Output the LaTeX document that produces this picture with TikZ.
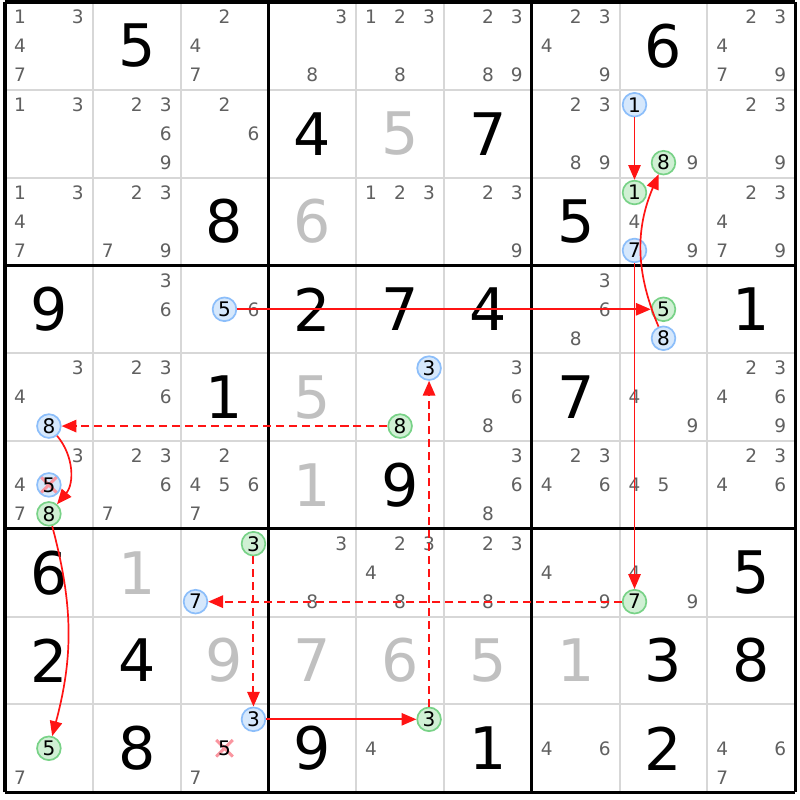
\documentclass[tikz,border=0pt]{standalone}
\usepackage{fontspec}
\setmainfont{DejaVu Sans}
\usetikzlibrary{arrows.meta}
\definecolor{gridgrey}{RGB}{215,215,215}
\definecolor{candgrey}{RGB}{96,96,96}
\definecolor{solvedgrey}{RGB}{192,192,192}
\definecolor{offfill}{RGB}{214,232,252}
\definecolor{offline}{RGB}{140,190,250}
\definecolor{onfill}{RGB}{208,240,212}
\definecolor{online}{RGB}{120,210,135}
\definecolor{elimred}{RGB}{250,150,160}
\definecolor{chainred}{RGB}{255,20,20}

\begin{document}
\begin{tikzpicture}[
  given/.style={font=\fontsize{19}{19}\selectfont, inner sep=0},
  solved/.style={given, text=solvedgrey},
  cand/.style={font=\fontsize{6}{6}\selectfont, text=candgrey, inner sep=0},
  markc/.style={cand, font=\fontsize{6.5}{6.5}\selectfont, circle, minimum size=0.27cm, text=black},
  offc/.style={markc, draw=offline, fill=offfill, line width=0.55pt},
  onc/.style={markc, draw=online, fill=onfill, line width=0.55pt},
  elim/.style={path picture={\draw[elimred, line width=1pt]
      (path picture bounding box.north west) -- (path picture bounding box.south east)
      (path picture bounding box.north east) -- (path picture bounding box.south west);}},
  strong/.style={chainred, line width=0.55pt, -{Triangle[length=4.8pt,width=4pt]}},
  weak/.style={strong, line width=0.65pt, dash pattern=on 2.6pt off 1.6pt}
]
\useasboundingbox (-0.057,-0.089) rectangle (9.055,9.023);
\fill [white] (-0.057,-0.089) rectangle (9.055,9.023);
\draw [gridgrey, line width=0.65pt] (0,0) grid (9,9);
\draw [black, line width=1pt, step=3] (0,0) grid (9,9);

\node[cand] (r1c1d1) at (0.17,8.83) {1};
\node[cand] (r1c1d3) at (0.83,8.83) {3};
\node[cand] (r1c1d4) at (0.17,8.5) {4};
\node[cand] (r1c1d7) at (0.17,8.17) {7};
\node[given] (r1c2) at (1.5,8.5) {5};
\node[cand] (r1c3d2) at (2.5,8.83) {2};
\node[cand] (r1c3d4) at (2.17,8.5) {4};
\node[cand] (r1c3d7) at (2.17,8.17) {7};
\node[cand] (r1c4d3) at (3.83,8.83) {3};
\node[cand] (r1c4d8) at (3.5,8.17) {8};
\node[cand] (r1c5d1) at (4.17,8.83) {1};
\node[cand] (r1c5d2) at (4.5,8.83) {2};
\node[cand] (r1c5d3) at (4.83,8.83) {3};
\node[cand] (r1c5d8) at (4.5,8.17) {8};
\node[cand] (r1c6d2) at (5.5,8.83) {2};
\node[cand] (r1c6d3) at (5.83,8.83) {3};
\node[cand] (r1c6d8) at (5.5,8.17) {8};
\node[cand] (r1c6d9) at (5.83,8.17) {9};
\node[cand] (r1c7d2) at (6.5,8.83) {2};
\node[cand] (r1c7d3) at (6.83,8.83) {3};
\node[cand] (r1c7d4) at (6.17,8.5) {4};
\node[cand] (r1c7d9) at (6.83,8.17) {9};
\node[given] (r1c8) at (7.5,8.5) {6};
\node[cand] (r1c9d2) at (8.5,8.83) {2};
\node[cand] (r1c9d3) at (8.83,8.83) {3};
\node[cand] (r1c9d4) at (8.17,8.5) {4};
\node[cand] (r1c9d7) at (8.17,8.17) {7};
\node[cand] (r1c9d9) at (8.83,8.17) {9};

\node[cand] (r2c1d1) at (0.17,7.83) {1};
\node[cand] (r2c1d3) at (0.83,7.83) {3};
\node[cand] (r2c2d2) at (1.5,7.83) {2};
\node[cand] (r2c2d3) at (1.83,7.83) {3};
\node[cand] (r2c2d6) at (1.83,7.5) {6};
\node[cand] (r2c2d9) at (1.83,7.17) {9};
\node[cand] (r2c3d2) at (2.5,7.83) {2};
\node[cand] (r2c3d6) at (2.83,7.5) {6};
\node[given] (r2c4) at (3.5,7.5) {4};
\node[solved] (r2c5) at (4.5,7.5) {5};
\node[given] (r2c6) at (5.5,7.5) {7};
\node[cand] (r2c7d2) at (6.5,7.83) {2};
\node[cand] (r2c7d3) at (6.83,7.83) {3};
\node[cand] (r2c7d8) at (6.5,7.17) {8};
\node[cand] (r2c7d9) at (6.83,7.17) {9};
\node[offc] (r2c8d1) at (7.17,7.83) {1};
\node[onc] (r2c8d8) at (7.5,7.17) {8};
\node[cand] (r2c8d9) at (7.83,7.17) {9};
\node[cand] (r2c9d2) at (8.5,7.83) {2};
\node[cand] (r2c9d3) at (8.83,7.83) {3};
\node[cand] (r2c9d9) at (8.83,7.17) {9};

\node[cand] (r3c1d1) at (0.17,6.83) {1};
\node[cand] (r3c1d3) at (0.83,6.83) {3};
\node[cand] (r3c1d4) at (0.17,6.5) {4};
\node[cand] (r3c1d7) at (0.17,6.17) {7};
\node[cand] (r3c2d2) at (1.5,6.83) {2};
\node[cand] (r3c2d3) at (1.83,6.83) {3};
\node[cand] (r3c2d7) at (1.17,6.17) {7};
\node[cand] (r3c2d9) at (1.83,6.17) {9};
\node[given] (r3c3) at (2.5,6.5) {8};
\node[solved] (r3c4) at (3.5,6.5) {6};
\node[cand] (r3c5d1) at (4.17,6.83) {1};
\node[cand] (r3c5d2) at (4.5,6.83) {2};
\node[cand] (r3c5d3) at (4.83,6.83) {3};
\node[cand] (r3c6d2) at (5.5,6.83) {2};
\node[cand] (r3c6d3) at (5.83,6.83) {3};
\node[cand] (r3c6d9) at (5.83,6.17) {9};
\node[given] (r3c7) at (6.5,6.5) {5};
\node[onc] (r3c8d1) at (7.17,6.83) {1};
\node[cand] (r3c8d4) at (7.17,6.5) {4};
\node[offc] (r3c8d7) at (7.17,6.17) {7};
\node[cand] (r3c8d9) at (7.83,6.17) {9};
\node[cand] (r3c9d2) at (8.5,6.83) {2};
\node[cand] (r3c9d3) at (8.83,6.83) {3};
\node[cand] (r3c9d4) at (8.17,6.5) {4};
\node[cand] (r3c9d7) at (8.17,6.17) {7};
\node[cand] (r3c9d9) at (8.83,6.17) {9};

\node[given] (r4c1) at (0.5,5.5) {9};
\node[cand] (r4c2d3) at (1.83,5.83) {3};
\node[cand] (r4c2d6) at (1.83,5.5) {6};
\node[offc] (r4c3d5) at (2.5,5.5) {5};
\node[cand] (r4c3d6) at (2.83,5.5) {6};
\node[given] (r4c4) at (3.5,5.5) {2};
\node[given] (r4c5) at (4.5,5.5) {7};
\node[given] (r4c6) at (5.5,5.5) {4};
\node[cand] (r4c7d3) at (6.83,5.83) {3};
\node[cand] (r4c7d6) at (6.83,5.5) {6};
\node[cand] (r4c7d8) at (6.5,5.17) {8};
\node[onc] (r4c8d5) at (7.5,5.5) {5};
\node[offc] (r4c8d8) at (7.5,5.17) {8};
\node[given] (r4c9) at (8.5,5.5) {1};

\node[cand] (r5c1d3) at (0.83,4.83) {3};
\node[cand] (r5c1d4) at (0.17,4.5) {4};
\node[offc] (r5c1d8) at (0.5,4.17) {8};
\node[cand] (r5c2d2) at (1.5,4.83) {2};
\node[cand] (r5c2d3) at (1.83,4.83) {3};
\node[cand] (r5c2d6) at (1.83,4.5) {6};
\node[given] (r5c3) at (2.5,4.5) {1};
\node[solved] (r5c4) at (3.5,4.5) {5};
\node[offc] (r5c5d3) at (4.83,4.83) {3};
\node[onc] (r5c5d8) at (4.5,4.17) {8};
\node[cand] (r5c6d3) at (5.83,4.83) {3};
\node[cand] (r5c6d6) at (5.83,4.5) {6};
\node[cand] (r5c6d8) at (5.5,4.17) {8};
\node[given] (r5c7) at (6.5,4.5) {7};
\node[cand] (r5c8d4) at (7.17,4.5) {4};
\node[cand] (r5c8d9) at (7.83,4.17) {9};
\node[cand] (r5c9d2) at (8.5,4.83) {2};
\node[cand] (r5c9d3) at (8.83,4.83) {3};
\node[cand] (r5c9d4) at (8.17,4.5) {4};
\node[cand] (r5c9d6) at (8.83,4.5) {6};
\node[cand] (r5c9d9) at (8.83,4.17) {9};

\node[cand] (r6c1d3) at (0.83,3.83) {3};
\node[cand] (r6c1d4) at (0.17,3.5) {4};
\node[offc, elim] (r6c1d5) at (0.5,3.5) {5};
\node[cand] (r6c1d7) at (0.17,3.17) {7};
\node[onc] (r6c1d8) at (0.5,3.17) {8};
\node[cand] (r6c2d2) at (1.5,3.83) {2};
\node[cand] (r6c2d3) at (1.83,3.83) {3};
\node[cand] (r6c2d6) at (1.83,3.5) {6};
\node[cand] (r6c2d7) at (1.17,3.17) {7};
\node[cand] (r6c3d2) at (2.5,3.83) {2};
\node[cand] (r6c3d4) at (2.17,3.5) {4};
\node[cand] (r6c3d5) at (2.5,3.5) {5};
\node[cand] (r6c3d6) at (2.83,3.5) {6};
\node[cand] (r6c3d7) at (2.17,3.17) {7};
\node[solved] (r6c4) at (3.5,3.5) {1};
\node[given] (r6c5) at (4.5,3.5) {9};
\node[cand] (r6c6d3) at (5.83,3.83) {3};
\node[cand] (r6c6d6) at (5.83,3.5) {6};
\node[cand] (r6c6d8) at (5.5,3.17) {8};
\node[cand] (r6c7d2) at (6.5,3.83) {2};
\node[cand] (r6c7d3) at (6.83,3.83) {3};
\node[cand] (r6c7d4) at (6.17,3.5) {4};
\node[cand] (r6c7d6) at (6.83,3.5) {6};
\node[cand] (r6c8d4) at (7.17,3.5) {4};
\node[cand] (r6c8d5) at (7.5,3.5) {5};
\node[cand] (r6c9d2) at (8.5,3.83) {2};
\node[cand] (r6c9d3) at (8.83,3.83) {3};
\node[cand] (r6c9d4) at (8.17,3.5) {4};
\node[cand] (r6c9d6) at (8.83,3.5) {6};

\node[given] (r7c1) at (0.5,2.5) {6};
\node[solved] (r7c2) at (1.5,2.5) {1};
\node[onc] (r7c3d3) at (2.83,2.83) {3};
\node[offc] (r7c3d7) at (2.17,2.17) {7};
\node[cand] (r7c4d3) at (3.83,2.83) {3};
\node[cand] (r7c4d8) at (3.5,2.17) {8};
\node[cand] (r7c5d2) at (4.5,2.83) {2};
\node[cand] (r7c5d3) at (4.83,2.83) {3};
\node[cand] (r7c5d4) at (4.17,2.5) {4};
\node[cand] (r7c5d8) at (4.5,2.17) {8};
\node[cand] (r7c6d2) at (5.5,2.83) {2};
\node[cand] (r7c6d3) at (5.83,2.83) {3};
\node[cand] (r7c6d8) at (5.5,2.17) {8};
\node[cand] (r7c7d4) at (6.17,2.5) {4};
\node[cand] (r7c7d9) at (6.83,2.17) {9};
\node[cand] (r7c8d4) at (7.17,2.5) {4};
\node[onc] (r7c8d7) at (7.17,2.17) {7};
\node[cand] (r7c8d9) at (7.83,2.17) {9};
\node[given] (r7c9) at (8.5,2.5) {5};

\node[given] (r8c1) at (0.5,1.5) {2};
\node[given] (r8c2) at (1.5,1.5) {4};
\node[solved] (r8c3) at (2.5,1.5) {9};
\node[solved] (r8c4) at (3.5,1.5) {7};
\node[solved] (r8c5) at (4.5,1.5) {6};
\node[solved] (r8c6) at (5.5,1.5) {5};
\node[solved] (r8c7) at (6.5,1.5) {1};
\node[given] (r8c8) at (7.5,1.5) {3};
\node[given] (r8c9) at (8.5,1.5) {8};

\node[onc] (r9c1d5) at (0.5,0.5) {5};
\node[cand] (r9c1d7) at (0.17,0.17) {7};
\node[given] (r9c2) at (1.5,0.5) {8};
\node[offc] (r9c3d3) at (2.83,0.83) {3};
\node[markc, elim] (r9c3d5) at (2.5,0.5) {5};
\node[cand] (r9c3d7) at (2.17,0.17) {7};
\node[given] (r9c4) at (3.5,0.5) {9};
\node[onc] (r9c5d3) at (4.83,0.83) {3};
\node[cand] (r9c5d4) at (4.17,0.5) {4};
\node[given] (r9c6) at (5.5,0.5) {1};
\node[cand] (r9c7d4) at (6.17,0.5) {4};
\node[cand] (r9c7d6) at (6.83,0.5) {6};
\node[given] (r9c8) at (7.5,0.5) {2};
\node[cand] (r9c9d4) at (8.17,0.5) {4};
\node[cand] (r9c9d6) at (8.83,0.5) {6};
\node[cand] (r9c9d7) at (8.17,0.17) {7};

\draw [strong] (r2c8d1) -- (r3c8d1);
\draw [strong] (r4c8d8) to[bend left=23] (r2c8d8);
\draw [strong] (r3c8d7) -- (r7c8d7);
\draw [strong] (r4c3d5) -- (r4c8d5);
\draw [weak] (r5c5d8) -- (r5c1d8);
\draw [strong] (r5c1d8) to[bend left=40] (r6c1d8);
\draw [strong] (r6c1d8) to[bend left=15] (r9c1d5);
\draw [weak] (r7c8d7) -- (r7c3d7);
\draw [weak] (r7c3d3) -- (r9c3d3);
\draw [strong] (r9c3d3) -- (r9c5d3);
\draw [weak] (r9c5d3) -- (r5c5d3);
\end{tikzpicture}
\end{document}
